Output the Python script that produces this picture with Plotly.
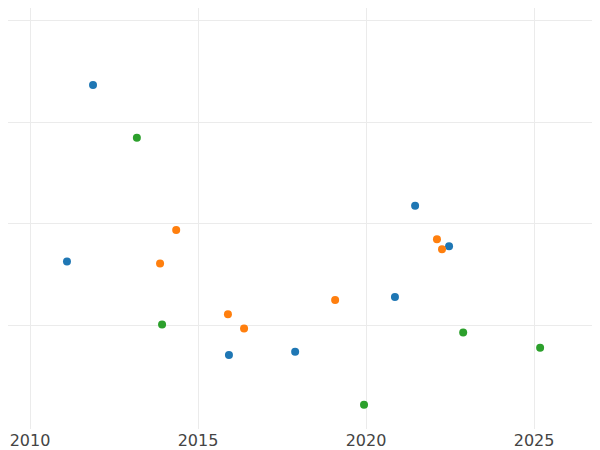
import plotly.graph_objects as go

blue_x = [2011.875, 2011.10, 2015.92, 2017.89, 2020.86, 2021.46, 2022.47]
blue_y = [3.37, 1.63, 0.71, 0.74, 1.28, 2.18, 1.78]
orange_x = [2014.35, 2013.87, 2015.89, 2016.37, 2019.08, 2022.11, 2022.26]
orange_y = [1.94, 1.61, 1.11, 0.97, 1.25, 1.85, 1.75]
green_x = [2013.18, 2013.93, 2019.94, 2022.89, 2025.18]
green_y = [2.85, 1.01, 0.22, 0.93, 0.78]

fig = go.Figure()
for xs, ys, c in [(blue_x, blue_y, "#1f77b4"), (orange_x, orange_y, "#ff7f0e"), (green_x, green_y, "#2ca02c")]:
    fig.add_trace(go.Scatter(x=xs, y=ys, mode="markers", marker=dict(color=c, size=8), showlegend=False))

fig.update_layout(
    width=600, height=450, margin=dict(l=0, r=0, t=0, b=29),
    paper_bgcolor="white", plot_bgcolor="white",
    font=dict(family="DejaVu Sans", size=16, color="#444"),
    xaxis=dict(range=[2009.345, 2027.20], tickvals=[2010, 2015, 2020, 2025], gridcolor="#ebebeb",
               zeroline=False, showline=False, ticks=""),
    yaxis=dict(range=[-0.02, 4.128], tickvals=[1, 2, 3, 4], showticklabels=False, gridcolor="#ebebeb",
               zeroline=False),
)
fig.write_html("out.html")
